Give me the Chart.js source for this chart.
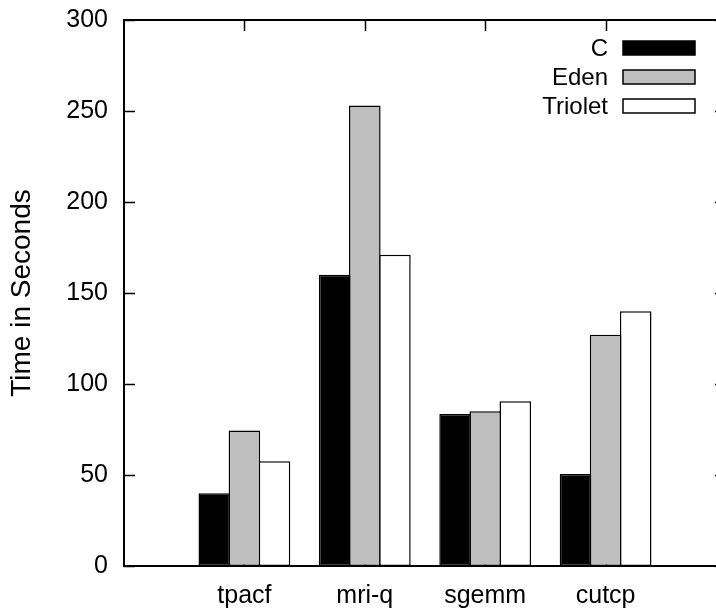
<!DOCTYPE html>
<html>
<head>
<meta charset="utf-8">
<script src="https://cdn.jsdelivr.net/npm/chart.js@4/dist/chart.umd.min.js"></script>
<style>
  html, body { margin: 0; padding: 0; background: #fff; overflow: hidden; }
  #wrap { width: 740px; height: 611px; }
</style>
</head>
<body>
<div id="wrap"><canvas id="chart" width="740" height="611"></canvas></div>
<script>
// benchmark names, with empty slots on both ends like the original plot
var categories = ['', 'tpacf', 'mri-q', 'sgemm', 'cutcp', ''];
var seriesNames = ['C', 'Eden', 'Triolet'];
var cTimes = [null, 40, 160, 83.5, 50.5, null];
var edenTimes = [null, 74.5, 253, 85, 127, null];
var trioletTimes = [null, 57.5, 171, 90.5, 140, null];
var yTicks = [0, 50, 100, 150, 200, 250, 300];

var fills = ['#000000', '#bebebe', '#ffffff'];
var font = 'Liberation Sans, Arial, Helvetica, sans-serif';

// gnuplot style frame: inward ticks + box, and a legend with the key on the right
var framePlugin = {
    id: 'frame',
    beforeDatasetsDraw: function(chart) {
        var ctx = chart.ctx;
        var a = chart.chartArea;
        var x = chart.scales.x, y = chart.scales.y;
        ctx.save();
        ctx.strokeStyle = '#000';
        ctx.lineWidth = 1.5;
        ctx.beginPath();
        yTicks.forEach(function(v) {
            var py = Math.round(y.getPixelForValue(v)) + 0.5;
            ctx.moveTo(a.left, py); ctx.lineTo(a.left + 11, py);
            ctx.moveTo(a.right, py); ctx.lineTo(a.right - 11, py);
        });
        categories.forEach(function(c, i) {
            if (!c) return;
            var px = Math.round(x.getPixelForValue(i)) + 0.5;
            ctx.moveTo(px, a.top); ctx.lineTo(px, a.top + 11);
            ctx.moveTo(px, a.bottom); ctx.lineTo(px, a.bottom - 11);
        });
        ctx.stroke();
        ctx.restore();
    },
    afterDatasetsDraw: function(chart) {
        var ctx = chart.ctx;
        var a = chart.chartArea;
        ctx.save();
        ctx.strokeStyle = '#000';
        ctx.lineWidth = 2;
        ctx.strokeRect(a.left, a.top, a.right - a.left, a.bottom - a.top);

        // key
        ctx.font = '24px ' + font;
        ctx.textAlign = 'right';
        ctx.textBaseline = 'middle';
        chart.data.datasets.forEach(function(ds, i) {
            var cy = 48 + i * 29;
            ctx.fillStyle = '#000';
            ctx.fillText(ds.label, 608, cy + 1);
            ctx.fillStyle = ds.backgroundColor;
            ctx.fillRect(623, cy - 7, 72, 14);
            ctx.lineWidth = 1.5;
            ctx.strokeRect(623, cy - 7, 72, 14);
        });
        ctx.restore();
    }
};

var ctx = document.getElementById('chart').getContext('2d');
var seriesData = [cTimes, edenTimes, trioletTimes];

var chart = new Chart(ctx, {
    type: 'bar',
    data: {
        labels: categories,
        datasets: seriesNames.map(function(name, i) {
            return {
                label: name,
                data: seriesData[i],
                backgroundColor: fills[i],
                borderColor: '#000',
                borderWidth: 1.5,
                borderSkipped: false,
                categoryPercentage: 0.75,
                barPercentage: 1.05
            };
        })
    },
    options: {
        responsive: false,
        animation: false,
        devicePixelRatio: 1,
        layout: { padding: { top: 20, right: 14, left: 0, bottom: 0 } },
        plugins: {
            legend: { display: false },
            tooltip: { enabled: false }
        },
        scales: {
            x: {
                type: 'category',
                offset: false,
                grid: { display: false, drawTicks: false },
                border: { display: false },
                ticks: {
                    color: '#000',
                    font: { family: font, size: 25 },
                    padding: 15,
                    maxRotation: 0,
                    autoSkip: false
                },
                afterFit: function(s) {
                    s.height = 45;
                    s.paddingLeft = 0; s.paddingRight = 0;
                }
            },
            y: {
                min: 0,
                max: 300,
                grid: { display: false, drawTicks: false },
                border: { display: false },
                ticks: {
                    stepSize: 50,
                    color: '#000',
                    font: { family: font, size: 25 },
                    padding: 16
                },
                title: {
                    display: true,
                    text: 'Time in Seconds',
                    color: '#000',
                    font: { family: font, size: 28 },
                    padding: { top: 5, bottom: 0 }
                },
                afterFit: function(s) {
                    s.width = 124;
                    s.paddingTop = 0; s.paddingBottom = 0;
                }
            }
        }
    },
    plugins: [framePlugin]
});
</script>
</body>
</html>
